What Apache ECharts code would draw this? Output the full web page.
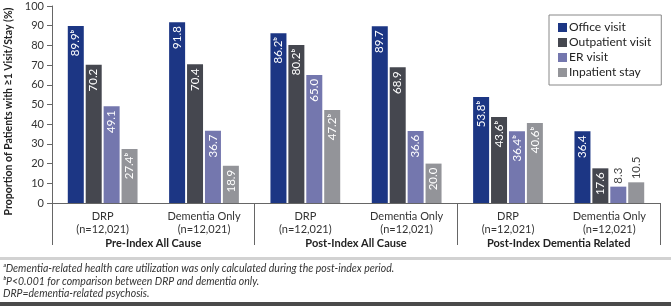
<!DOCTYPE html>
<html>
<head>
<meta charset="utf-8">
<script src="https://cdn.jsdelivr.net/npm/echarts@6/dist/echarts.min.js"></script>
<style>
  html, body { margin: 0; padding: 0; background: #fff; }
  #chart { width: 671px; height: 306px; }
</style>
</head>
<body>
<div id="chart"></div>
<script>
let dom = document.getElementById('chart');
let chart = echarts.init(dom, null, { renderer: 'canvas' });

// categories
let subCats = ['DRP\n(n=12,021)', 'Dementia Only\n(n=12,021)', 'DRP\n(n=12,021)', 'Dementia Only\n(n=12,021)', 'DRP\n(n=12,021)', 'Dementia Only\n(n=12,021)'];
let groupCats = ['Pre-Index All Cause', 'Post-Index All Cause', 'Post-Index Dementia Related'];
let seriesNames = ['Office visit', 'Outpatient visit', 'ER visit', 'Inpatient stay'];

// values (%)
let office = [89.9, 91.8, 86.2, 89.7, 53.8, 36.4];
let outpatient = [70.2, 70.4, 80.2, 68.9, 43.6, 17.6];
let er = [49.1, 36.7, 65.0, 36.6, 36.4, 8.3];
let inpatient = [27.4, 18.9, 47.2, 20.0, 40.6, 10.5];

// b = P<0.001 marker
let officeSig = [1, 0, 1, 0, 1, 0];
let outpatientSig = [0, 0, 1, 0, 1, 0];
let erSig = [0, 0, 0, 0, 1, 0];
let inpatientSig = [1, 0, 1, 0, 1, 0];

let yTicks = [0, 10, 20, 30, 40, 50, 60, 70, 80, 90, 100];

let colors = ['#1c3684', '#45474f', '#7477ae', '#939499'];
let font = "Lato, 'Open Sans', sans-serif";

function buildData(vals, sig) {
  return vals.map(function (v, i) {
    let item = { value: v, sig: sig[i] };
    if (v < 12) {
      // short bars: label sits above the bar
      item.label = { position: 'top', align: 'left', color: '#444', distance: 3 };
    }
    return item;
  });
}

let allVals = [office, outpatient, er, inpatient];
let allSig = [officeSig, outpatientSig, erSig, inpatientSig];

let series = seriesNames.map(function (name, k) {
  return {
    name: name,
    type: 'bar',
    barWidth: 16,
    barGap: '12%',
    itemStyle: { color: colors[k] },
    label: {
      show: true,
      position: 'insideTop',
      rotate: 90,
      align: 'right',
      verticalAlign: 'middle',
      distance: 4,
      color: '#fff',
      fontSize: 11.5,
      fontFamily: font,
      formatter: function (p) {
        return p.value.toFixed(1) + (p.data.sig ? 'ᵇ' : '');
      },
    },
    data: buildData(allVals[k], allSig[k]),
  };
});

let option = {
  animation: false,
  color: colors,
  textStyle: { fontFamily: font },
  legend: {
    data: seriesNames,
    orient: 'vertical',
    left: 549,
    top: 15,
    padding: [6, 10, 6, 9],
    borderColor: '#888',
    borderWidth: 1,
    itemWidth: 9,
    itemHeight: 9,
    itemGap: 2,
    icon: 'rect',
    textStyle: { fontSize: 12, color: '#222', padding: [0, 0, 0, -3], lineHeight: 13, fontFamily: font },
  },
  grid: { left: 52, right: 11, top: 6, bottom: 103, outerBoundsMode: 'none' },
  xAxis: [
    {
      type: 'category',
      data: subCats,
      axisLine: { lineStyle: { color: '#666' } },
      axisTick: { length: 5, lineStyle: { color: '#666' } },
      axisLabel: { interval: 0, fontSize: 11, color: '#333', margin: 7, lineHeight: 13, fontFamily: font },
    },
    {
      type: 'category',
      data: groupCats,
      position: 'bottom',
      axisLine: { show: false },
      axisTick: { show: true, interval: 0, length: 42, lineStyle: { color: '#666' } },
      axisLabel: { interval: 0, fontSize: 11, fontWeight: 'bold', color: '#222', margin: 35, fontFamily: font },
    },
  ],
  yAxis: {
    type: 'value',
    min: yTicks[0],
    max: yTicks[yTicks.length - 1],
    interval: 10,
    name: 'Proportion of Patients with ≥1 Visit/Stay (%)',
    nameLocation: 'middle',
    nameGap: 31,
    nameTextStyle: { fontSize: 10.5, fontWeight: 'bold', color: '#222', fontFamily: font, padding: [0, 14, 0, 0] },
    axisLine: { show: true, lineStyle: { color: '#666' } },
    axisTick: { show: true, length: 5, lineStyle: { color: '#666' } },
    splitLine: { show: false },
    axisLabel: { fontSize: 11, color: '#333', margin: 8, fontFamily: font },
  },
  graphic: [
    { type: 'rect', left: 0, top: 257, shape: { width: 671, height: 3 }, style: { fill: '#d2d2d2' } },
    { type: 'text', left: 3, top: 263, style: { text: 'ᵃDementia-related health care utilization was only calculated during the post-index period.', fill: '#333', font: 'italic 10.5px ' + font } },
    { type: 'text', left: 3, top: 276, style: { text: 'ᵇP<0.001 for comparison between DRP and dementia only.', fill: '#333', font: 'italic 10.5px ' + font } },
    { type: 'text', left: 3, top: 288, style: { text: 'DRP=dementia-related psychosis.', fill: '#333', font: 'italic 10.5px ' + font } },
    { type: 'rect', left: 0, top: 302, shape: { width: 671, height: 4 }, style: { fill: '#4a4a4a' } },
  ],
  series: series,
};

chart.setOption(option);
window.addEventListener('resize', chart.resize);
</script>
</body>
</html>
